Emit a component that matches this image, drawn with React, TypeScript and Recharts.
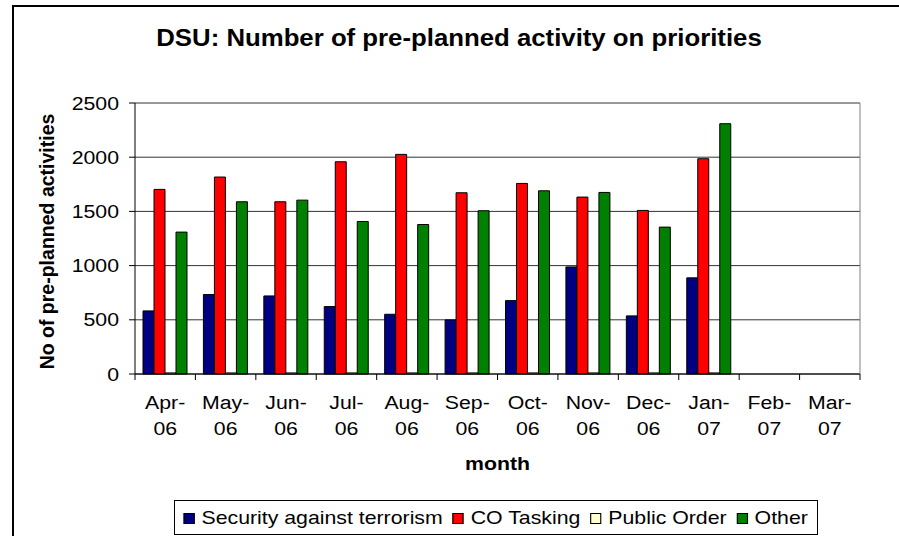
import React from 'react';
import { BarChart, Bar, XAxis, YAxis, CartesianGrid } from 'recharts';

const categories = ['Apr-06', 'May-06', 'Jun-06', 'Jul-06', 'Aug-06', 'Sep-06', 'Oct-06', 'Nov-06', 'Dec-06', 'Jan-07', 'Feb-07', 'Mar-07'];
const security = [582, 733, 720, 622, 551, 499, 677, 988, 536, 887, null, null];
const coTasking = [1703, 1817, 1589, 1958, 2026, 1672, 1758, 1632, 1509, 1986, null, null];
const publicOrder = [10, 10, 10, 10, 10, 10, 10, 10, 10, 10, null, null];
const other = [1309, 1589, 1604, 1407, 1379, 1506, 1690, 1675, 1355, 2309, null, null];
const yTicks = [0, 500, 1000, 1500, 2000, 2500];

const series = [
  { key: 'security', name: 'Security against terrorism', color: '#000080' },
  { key: 'coTasking', name: 'CO Tasking', color: '#FF0000' },
  { key: 'publicOrder', name: 'Public Order', color: '#FFFFCC' },
  { key: 'other', name: 'Other', color: '#008000' },
];

const data = categories.map((month, i) => ({
  month,
  security: security[i],
  coTasking: coTasking[i],
  publicOrder: publicOrder[i],
  other: other[i],
}));

const FONT = '"Liberation Sans", Arial, sans-serif';
// the reference text is a little wider than Arial, stretch it horizontally
const SX = 1.12;

function MonthTick(props: any) {
  const { x, y, payload, index } = props;
  const half = payload?.offset || 30.22;
  const [mon, yr] = String(payload.value).split('-');
  const last = index === categories.length - 1;
  return (
    <g>
      <line x1={x - half} x2={x - half} y1={y - 6} y2={y} stroke="#000" />
      {last && <line x1={x + half} x2={x + half} y1={y - 6} y2={y} stroke="#000" />}
      <text transform={`translate(${x},${y}) scale(${SX},1)`} textAnchor="middle" fontSize={19} fontFamily={FONT} fill="#000">
        <tspan x={0} y={29}>{mon}-</tspan>
        <tspan x={0} y={55}>{yr}</tspan>
      </text>
    </g>
  );
}

function CountTick(props: any) {
  const { x, y, payload } = props;
  return (
    <text transform={`translate(${x},${y}) scale(${SX},1)`} textAnchor="end" dominantBaseline="central" fontSize={19} fontFamily={FONT} fill="#000">
      {payload.value}
    </text>
  );
}

function YLabel(props: any) {
  const { x, y, height } = props.viewBox;
  const cx = x + 32;
  const cy = y + height / 2 + 3;
  return (
    <text x={cx} y={cy} transform={`rotate(-90, ${cx}, ${cy})`} textAnchor="middle" dominantBaseline="central" fontSize={19.5} fontWeight="bold" fontFamily={FONT} fill="#000">
      No of pre-planned activities
    </text>
  );
}

function MonthLabel(props: any) {
  const { x, y, width } = props.viewBox;
  const cx = x + width / 2;
  const by = y + 96;
  return (
    <text transform={`translate(${cx},${by}) scale(${SX},1)`} textAnchor="middle" fontSize={19} fontWeight="bold" fontFamily={FONT} fill="#000">
      month
    </text>
  );
}

export default function App() {
  return (
    <div style={{ position: 'fixed', left: 0, top: 0, width: 899, height: 536, overflow: 'hidden', background: '#fff', fontFamily: FONT }}>
      <div style={{ position: 'absolute', left: 12, top: 5, width: 1000, height: 1000, border: '2px solid #000' }} />
      <div
        style={{
          position: 'absolute', left: 0, top: 27, width: 918, textAlign: 'center',
          fontSize: 23, lineHeight: '23px', fontWeight: 'bold', color: '#000',
          transform: `scaleX(${SX})`, transformOrigin: '459px 0',
        }}
      >
        DSU: Number of pre-planned activity on priorities
      </div>
      <div style={{ position: 'absolute', left: 0, top: 0 }}>
        <BarChart width={899} height={536} data={data} margin={{ top: 103, right: 38, bottom: 62, left: 15 }} barCategoryGap={8} barGap={0}>
          <CartesianGrid vertical={false} stroke="#333" />
          <XAxis dataKey="month" height={100} tickLine={false} tickSize={6} tickMargin={0} tick={<MonthTick />} interval={0} axisLine={{ stroke: '#000' }} label={<MonthLabel />} />
          <YAxis width={120} domain={[0, 2500]} ticks={yTicks} tick={<CountTick />} tickSize={6} tickMargin={10} tickLine={{ stroke: '#000' }} axisLine={{ stroke: '#000' }} label={<YLabel />} />
          <YAxis yAxisId="right" orientation="right" width={1} domain={[0, 2500]} tick={false} tickLine={false} axisLine={{ stroke: '#808080' }} />
          {series.map((s) => (
            <Bar key={s.key} dataKey={s.key} name={s.name} fill={s.color} stroke="#000" strokeWidth={1} isAnimationActive={false} />
          ))}
        </BarChart>
      </div>
      <div
        style={{
          position: 'absolute', left: 174, top: 500, width: 644, height: 35, boxSizing: 'border-box',
          border: '1px solid #000', background: '#fff', display: 'flex', alignItems: 'center', justifyContent: 'center',
        }}
      >
        <div style={{ display: 'flex', alignItems: 'center', transform: `scaleX(${SX})`, fontSize: 19, lineHeight: '33px', color: '#000' }}>
          {series.map((s, i) => (
            <div key={s.key} style={{ display: 'flex', alignItems: 'center', marginLeft: i === 0 ? 0 : 9 }}>
              <span style={{ display: 'inline-block', width: 10, height: 11, boxSizing: 'border-box', border: '1px solid #000', background: s.color, marginRight: 6, marginTop: 2 }} />
              <span>{s.name}</span>
            </div>
          ))}
        </div>
      </div>
    </div>
  );
}
